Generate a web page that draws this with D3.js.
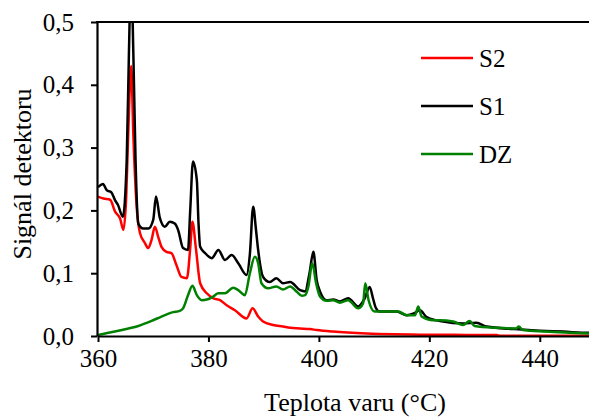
<!DOCTYPE html>
<html>
<head>
<meta charset="utf-8">
<script src="https://cdn.jsdelivr.net/npm/d3@7"></script>
<style>
  body { margin: 0; background: #fff; }
  svg { display: block; }
  svg text { font-family: "Liberation Serif", "Times New Roman", Times, serif; fill: #000; }
</style>
</head>
<body>
<svg class="chart"></svg>
<script>
// temperatures (°C) and detector signal
var s1Temp = [360.0, 360.9, 361.6, 362.4, 363.1, 363.6, 364.5, 365.2, 365.6, 366.0, 366.4, 366.8, 367.3, 368.2, 369.1, 370.0, 370.5, 371.2, 372.1, 373.0, 373.9, 374.5, 375.4, 376.3, 376.7, 377.2, 377.9, 378.2, 378.5, 379.4, 380.6, 381.8, 383.0, 384.2, 385.4, 386.9, 387.5, 388.1, 388.6, 389.0, 389.9, 391.1, 392.3, 393.5, 394.8, 396.6, 397.5, 398.3, 399.0, 399.6, 400.2, 401.4, 402.6, 403.8, 405.3, 407.1, 408.3, 409.2, 409.8, 410.3, 411.0, 414.1, 415.9, 417.2, 418.3, 419.5, 421.3, 421.9, 426.1, 428.5, 430.4, 435.2, 440.0, 444.2, 448.9, 450.0]
var s1Value = [0.237, 0.242, 0.232, 0.229, 0.216, 0.209, 0.190, 0.280, 0.450, 0.580, 0.450, 0.280, 0.179, 0.171, 0.171, 0.185, 0.222, 0.188, 0.174, 0.182, 0.179, 0.169, 0.140, 0.137, 0.200, 0.278, 0.248, 0.180, 0.142, 0.132, 0.124, 0.137, 0.121, 0.129, 0.116, 0.097, 0.130, 0.206, 0.170, 0.137, 0.094, 0.086, 0.092, 0.084, 0.086, 0.073, 0.071, 0.100, 0.134, 0.089, 0.071, 0.057, 0.058, 0.055, 0.060, 0.047, 0.060, 0.078, 0.060, 0.045, 0.039, 0.039, 0.033, 0.036, 0.041, 0.030, 0.025, 0.024, 0.020, 0.021, 0.015, 0.011, 0.0085, 0.007, 0.005, 0.005]

var s2Temp = [360.0, 361.0, 362.2, 363.1, 364.0, 364.6, 365.1, 365.5, 366.0, 366.4, 367.0, 367.6, 368.5, 369.1, 369.7, 370.3, 370.9, 371.5, 372.4, 373.3, 374.2, 375.1, 376.1, 376.7, 377.1, 377.7, 378.5, 379.7, 380.9, 382.1, 383.3, 384.8, 386.9, 388.0, 389.0, 389.9, 391.7, 393.5, 394.8, 396.6, 398.4, 399.6, 402.5, 408.6, 420.6, 432.2, 432.8, 450.0]
var s2Value = [0.222, 0.219, 0.217, 0.198, 0.187, 0.169, 0.220, 0.330, 0.430, 0.320, 0.206, 0.164, 0.148, 0.140, 0.153, 0.174, 0.158, 0.142, 0.134, 0.132, 0.113, 0.094, 0.092, 0.140, 0.182, 0.142, 0.084, 0.068, 0.060, 0.057, 0.049, 0.041, 0.028, 0.044, 0.031, 0.023, 0.0175, 0.015, 0.013, 0.012, 0.011, 0.0095, 0.007, 0.004, 0.002, 0.0015, 0.0005, 0.0005]

var dzTemp = [360.0, 361.3, 363.7, 365.5, 367.3, 369.7, 371.5, 373.6, 374.8, 375.4, 376.3, 377.1, 377.9, 378.8, 379.7, 380.9, 381.8, 383.0, 384.5, 385.4, 386.6, 387.5, 388.4, 389.0, 389.6, 390.8, 392.3, 393.5, 394.8, 396.0, 396.9, 397.5, 398.1, 398.8, 399.5, 400.2, 401.4, 402.6, 403.8, 405.3, 407.1, 408.0, 408.4, 409.0, 410.1, 412.3, 414.4, 415.9, 417.4, 418.0, 418.6, 420.7, 421.9, 424.3, 426.1, 427.3, 428.2, 432.2, 435.7, 436.2, 436.9, 441.2, 448.9, 450.0]
var dzValue = [0.0016, 0.004, 0.0085, 0.012, 0.016, 0.024, 0.031, 0.038, 0.040, 0.044, 0.065, 0.080, 0.065, 0.057, 0.058, 0.063, 0.068, 0.068, 0.077, 0.073, 0.065, 0.100, 0.126, 0.116, 0.084, 0.076, 0.079, 0.074, 0.079, 0.0705, 0.064, 0.065, 0.079, 0.116, 0.084, 0.063, 0.056, 0.057, 0.053, 0.057, 0.044, 0.052, 0.084, 0.057, 0.039, 0.039, 0.039, 0.033, 0.033, 0.047, 0.031, 0.025, 0.025, 0.023, 0.0175, 0.024, 0.016, 0.013, 0.012, 0.015, 0.0095, 0.007, 0.004, 0.004]

var seriesNames = ["S2", "S1", "DZ"]
var seriesColors = ["#ff0000", "#000000", "#008000"]
var xTicks = [360, 380, 400, 420, 440]
var yTicks = [0, 0.1, 0.2, 0.3, 0.4, 0.5]

var width = 589, height = 417
var margin = {top: 22, left: 98}
var plotRight = 595
var plotBottom = 336

var x = d3.scaleLinear().domain([360, 450]).range([margin.left, plotRight])
var y = d3.scaleLinear().domain([0, 0.5]).range([plotBottom, margin.top])

var svg = d3.select(".chart")
    .attr("width", width)
    .attr("height", height)

svg.append("clipPath")
    .attr("id", "plot-clip")
  .append("rect")
    .attr("x", margin.left)
    .attr("y", margin.top)
    .attr("width", plotRight - margin.left)
    .attr("height", plotBottom - margin.top)

var line = d3.line()
    .x(function(d) { return x(d[0]) })
    .y(function(d) { return y(d[1]) })
    .curve(d3.curveMonotoneX)

var series = [
  d3.zip(s2Temp, s2Value),
  d3.zip(s1Temp, s1Value),
  d3.zip(dzTemp, dzValue)
]

var plot = svg.append("g").attr("clip-path", "url(#plot-clip)")
series.forEach(function(s, i) {
  plot.append("path")
    .datum(s)
    .attr("fill", "none")
    .attr("stroke", seriesColors[i])
    .attr("stroke-width", 2.5)
    .attr("stroke-linejoin", "round")
    .attr("d", line)
})

// axes
var xAxis = svg.append("g")
    .attr("transform", `translate(0,${plotBottom})`)
    .call(d3.axisBottom(x).tickValues(xTicks).tickSize(6).tickPadding(7).tickSizeOuter(0))

var yAxis = svg.append("g")
    .attr("transform", `translate(${margin.left - 1},0)`)
    .call(d3.axisLeft(y).tickValues(yTicks).tickSize(6).tickPadding(17).tickSizeOuter(0)
      .tickFormat(function(d) { return d.toFixed(1).replace(".", ",") }))

;[xAxis, yAxis].forEach(function(a) {
  a.attr("font-family", null).attr("font-size", null)
  a.selectAll(".domain").attr("stroke", "#000").attr("stroke-width", 2.2)
  a.selectAll(".tick line").attr("stroke", "#000").attr("stroke-width", 2)
  a.selectAll(".tick text")
    .attr("fill", "#000")
    .style("font-size", "25px")
})

// top frame
svg.append("line")
    .attr("x1", margin.left - 2)
    .attr("x2", width)
    .attr("y1", margin.top)
    .attr("y2", margin.top)
    .attr("stroke", "#000")
    .attr("stroke-width", 2.2)

svg.append("text")
    .attr("x", 355)
    .attr("y", 411)
    .attr("text-anchor", "middle")
    .style("font-size", "26px")
    .text("Teplota varu (°C)")

svg.append("text")
    .attr("transform", "translate(31,174) rotate(-90)")
    .attr("text-anchor", "middle")
    .style("font-size", "26px")
    .text("Signál detektoru")

// legend
var legend = svg.append("g")
seriesNames.forEach(function(name, i) {
  var ly = 58 + i * 48
  legend.append("line")
    .attr("x1", 421).attr("x2", 473)
    .attr("y1", ly).attr("y2", ly)
    .attr("stroke", seriesColors[i])
    .attr("stroke-width", 2.5)
  legend.append("text")
    .attr("x", 479)
    .attr("y", ly)
    .attr("dy", "0.35em")
    .style("font-size", "25px")
    .text(name)
})
</script>
</body>
</html>
